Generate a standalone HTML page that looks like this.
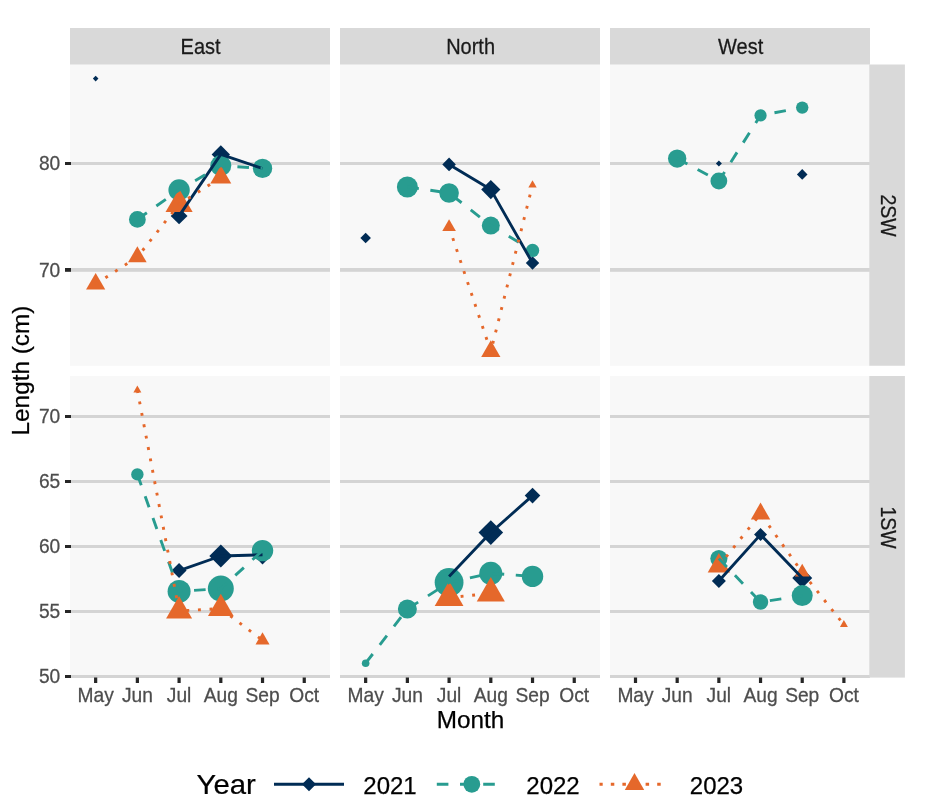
<!DOCTYPE html>
<html lang="en"><head><meta charset="utf-8"><title>Length by Month</title>
<style>html,body{margin:0;padding:0;background:#fff}svg{display:block}</style></head>
<body>
<svg width="940" height="812" viewBox="0 0 940 812" font-family="'Liberation Sans', sans-serif">
<rect width="940" height="812" fill="#fff"/>
<clipPath id="c00"><rect x="70" y="64.5" width="260" height="301.25"/></clipPath>
<rect x="70" y="64" width="260" height="301.75" fill="#F8F8F8"/>
<g clip-path="url(#c00)">
<rect x="70" y="162" width="260" height="3" fill="#D4D4D4"/>
<rect x="70" y="268" width="260" height="3.8" fill="#D4D4D4"/>
<path fill="#012C55" d="M92.85 78.6L95.65 75.8L98.45 78.6L95.65 81.4Z"/>
<path fill="#012C55" d="M170.69 215.9L179.09 207.5L187.49 215.9L179.09 224.3Z"/>
<path fill="#012C55" d="M211.61 154.4L220.81 145.2L230.01 154.4L220.81 163.6Z"/>
<path fill="#012C55" d="M258.53 168.5L262.53 164.5L266.53 168.5L262.53 172.5Z"/>
<circle fill="#289C90" cx="137.37" cy="219.4" r="8.4"/>
<circle fill="#289C90" cx="179.09" cy="190" r="10.7"/>
<circle fill="#289C90" cx="220.81" cy="165.6" r="10.5"/>
<circle fill="#289C90" cx="262.53" cy="168.4" r="9.7"/>
<path fill="#E5682B" d="M95.65 272.95L105.26 289.6L86.04 289.6Z"/>
<path fill="#E5682B" d="M137.37 246.26L146.67 262.37L128.07 262.37Z"/>
<path fill="#E5682B" d="M179.09 188.65L192.64 212.12L165.54 212.12Z"/>
<path fill="#E5682B" d="M220.81 165.45L231.29 183.6L210.33 183.6Z"/>
<polyline fill="none" stroke="#012C55" stroke-width="2.9" stroke-linejoin="round" points="179.09,215.9 220.81,154.4 262.53,168.5"/>
<polyline fill="none" stroke="#289C90" stroke-width="2.9" stroke-dasharray="11.6 11.6" stroke-linejoin="round" points="137.37,219.4 179.09,190 220.81,165.6 262.53,168.4"/>
<polyline fill="none" stroke="#E5682B" stroke-width="2.9" stroke-dasharray="2.9 8.7" stroke-linejoin="round" points="95.65,284.05 137.37,257 179.09,204.3 220.81,177.55"/>
</g>
<clipPath id="c01"><rect x="340" y="64.5" width="260" height="301.25"/></clipPath>
<rect x="340" y="64" width="260" height="301.75" fill="#F8F8F8"/>
<g clip-path="url(#c01)">
<rect x="340" y="162" width="260" height="3" fill="#D4D4D4"/>
<rect x="340" y="268" width="260" height="3.8" fill="#D4D4D4"/>
<path fill="#012C55" d="M360.35 238L365.65 232.7L370.95 238L365.65 243.3Z"/>
<path fill="#012C55" d="M442.29 164.4L449.09 157.6L455.89 164.4L449.09 171.2Z"/>
<path fill="#012C55" d="M481.21 189.6L490.81 180L500.41 189.6L490.81 199.2Z"/>
<path fill="#012C55" d="M525.83 263L532.53 256.3L539.23 263L532.53 269.7Z"/>
<circle fill="#289C90" cx="407.37" cy="187" r="10.5"/>
<circle fill="#289C90" cx="449.09" cy="193" r="9.8"/>
<circle fill="#289C90" cx="490.81" cy="225.6" r="9"/>
<circle fill="#289C90" cx="532.53" cy="250.4" r="6.7"/>
<path fill="#E5682B" d="M449.09 219.25L455.89 231.03L442.29 231.03Z"/>
<path fill="#E5682B" d="M490.81 340.35L500.42 357L481.2 357Z"/>
<path fill="#E5682B" d="M532.53 180.2L536.69 187.4L528.37 187.4Z"/>
<polyline fill="none" stroke="#012C55" stroke-width="2.9" stroke-linejoin="round" points="449.09,164.4 490.81,189.6 532.53,263"/>
<polyline fill="none" stroke="#289C90" stroke-width="2.9" stroke-dasharray="11.6 11.6" stroke-linejoin="round" points="407.37,187 449.09,193 490.81,225.6 532.53,250.4"/>
<polyline fill="none" stroke="#E5682B" stroke-width="2.9" stroke-dasharray="2.9 8.7" stroke-linejoin="round" points="449.09,227.1 490.81,351.45 532.53,185"/>
</g>
<clipPath id="c02"><rect x="610" y="64.5" width="260" height="301.25"/></clipPath>
<rect x="610" y="64" width="260" height="301.75" fill="#F8F8F8"/>
<g clip-path="url(#c02)">
<rect x="610" y="162" width="260" height="3" fill="#D4D4D4"/>
<rect x="610" y="268" width="260" height="3.8" fill="#D4D4D4"/>
<path fill="#012C55" d="M715.86 163.4L718.86 160.4L721.86 163.4L718.86 166.4Z"/>
<path fill="#012C55" d="M796.92 174.4L802.22 169.1L807.52 174.4L802.22 179.7Z"/>
<circle fill="#289C90" cx="677.18" cy="158.6" r="9.2"/>
<circle fill="#289C90" cx="718.86" cy="181" r="8.4"/>
<circle fill="#289C90" cx="760.54" cy="115.4" r="6.1"/>
<circle fill="#289C90" cx="802.22" cy="107.6" r="6.2"/>
<polyline fill="none" stroke="#289C90" stroke-width="2.9" stroke-dasharray="11.6 11.6" stroke-linejoin="round" points="677.18,158.6 718.86,181 760.54,115.4 802.22,107.6"/>
</g>
<clipPath id="c10"><rect x="70" y="376" width="260" height="302"/></clipPath>
<rect x="70" y="376" width="260" height="302" fill="#F8F8F8"/>
<g clip-path="url(#c10)">
<rect x="70" y="415" width="260" height="3" fill="#D4D4D4"/>
<rect x="70" y="480" width="260" height="3" fill="#D4D4D4"/>
<rect x="70" y="545" width="260" height="3" fill="#D4D4D4"/>
<rect x="70" y="610" width="260" height="3" fill="#D4D4D4"/>
<rect x="70" y="675" width="260" height="3" fill="#D4D4D4"/>
<path fill="#012C55" d="M171.59 570.6L179.09 563.1L186.59 570.6L179.09 578.1Z"/>
<path fill="#012C55" d="M209.31 556L220.81 544.5L232.31 556L220.81 567.5Z"/>
<path fill="#012C55" d="M252.93 554.8L262.53 545.2L272.13 554.8L262.53 564.4Z"/>
<circle fill="#289C90" cx="137.37" cy="474.4" r="6.2"/>
<circle fill="#289C90" cx="179.09" cy="591.4" r="11.5"/>
<circle fill="#289C90" cx="220.81" cy="588.6" r="13"/>
<circle fill="#289C90" cx="262.53" cy="550.6" r="10.7"/>
<path fill="#E5682B" d="M137.37 385.5L141.35 392.4L133.39 392.4Z"/>
<path fill="#E5682B" d="M179.09 595.9L192.08 618.4L166.1 618.4Z"/>
<path fill="#E5682B" d="M220.81 593.8L233.63 616L207.99 616Z"/>
<path fill="#E5682B" d="M262.53 632.25L269.54 644.4L255.52 644.4Z"/>
<polyline fill="none" stroke="#012C55" stroke-width="2.9" stroke-linejoin="round" points="179.09,570.6 220.81,556 262.53,554.8"/>
<polyline fill="none" stroke="#289C90" stroke-width="2.9" stroke-dasharray="11.6 11.6" stroke-linejoin="round" points="137.37,474.4 179.09,591.4 220.81,588.6 262.53,550.6"/>
<polyline fill="none" stroke="#E5682B" stroke-width="2.9" stroke-dasharray="2.9 8.7" stroke-linejoin="round" points="137.37,390.1 179.09,610.9 220.81,608.6 262.53,640.35"/>
</g>
<clipPath id="c11"><rect x="340" y="376" width="260" height="302"/></clipPath>
<rect x="340" y="376" width="260" height="302" fill="#F8F8F8"/>
<g clip-path="url(#c11)">
<rect x="340" y="415" width="260" height="3" fill="#D4D4D4"/>
<rect x="340" y="480" width="260" height="3" fill="#D4D4D4"/>
<rect x="340" y="545" width="260" height="3" fill="#D4D4D4"/>
<rect x="340" y="610" width="260" height="3" fill="#D4D4D4"/>
<rect x="340" y="675" width="260" height="3" fill="#D4D4D4"/>
<path fill="#012C55" d="M445.09 576.4L449.09 572.4L453.09 576.4L449.09 580.4Z"/>
<path fill="#012C55" d="M478.51 532.6L490.81 520.3L503.11 532.6L490.81 544.9Z"/>
<path fill="#012C55" d="M524.73 495.6L532.53 487.8L540.33 495.6L532.53 503.4Z"/>
<circle fill="#289C90" cx="365.65" cy="663.2" r="3.8"/>
<circle fill="#289C90" cx="407.37" cy="609" r="9.5"/>
<circle fill="#289C90" cx="449.09" cy="582.4" r="14.4"/>
<circle fill="#289C90" cx="490.81" cy="573.3" r="11.5"/>
<circle fill="#289C90" cx="532.53" cy="576.4" r="10.7"/>
<path fill="#E5682B" d="M449.09 581.1L463.47 606L434.71 606Z"/>
<path fill="#E5682B" d="M490.81 577.1L504.84 601.4L476.78 601.4Z"/>
<polyline fill="none" stroke="#012C55" stroke-width="2.9" stroke-linejoin="round" points="449.09,576.4 490.81,532.6 532.53,495.6"/>
<polyline fill="none" stroke="#289C90" stroke-width="2.9" stroke-dasharray="11.6 11.6" stroke-linejoin="round" points="365.65,663.2 407.37,609 449.09,582.4 490.81,573.3 532.53,576.4"/>
<polyline fill="none" stroke="#E5682B" stroke-width="2.9" stroke-dasharray="2.9 8.7" stroke-linejoin="round" points="449.09,597.7 490.81,593.3"/>
</g>
<clipPath id="c12"><rect x="610" y="376" width="260" height="302"/></clipPath>
<rect x="610" y="376" width="260" height="302" fill="#F8F8F8"/>
<g clip-path="url(#c12)">
<rect x="610" y="415" width="260" height="3" fill="#D4D4D4"/>
<rect x="610" y="480" width="260" height="3" fill="#D4D4D4"/>
<rect x="610" y="545" width="260" height="3" fill="#D4D4D4"/>
<rect x="610" y="610" width="260" height="3" fill="#D4D4D4"/>
<rect x="610" y="675" width="260" height="3" fill="#D4D4D4"/>
<path fill="#012C55" d="M711.86 581L718.86 574L725.86 581L718.86 588Z"/>
<path fill="#012C55" d="M754.04 534.6L760.54 528.1L767.04 534.6L760.54 541.1Z"/>
<path fill="#012C55" d="M792.22 578L802.22 568L812.22 578L802.22 588Z"/>
<circle fill="#289C90" cx="718.86" cy="558.6" r="8.6"/>
<circle fill="#289C90" cx="760.54" cy="602" r="7.7"/>
<circle fill="#289C90" cx="802.22" cy="595.6" r="10.5"/>
<path fill="#E5682B" d="M718.86 553.05L730.03 572.4L707.69 572.4Z"/>
<path fill="#E5682B" d="M760.54 502.6L770.24 519.4L750.84 519.4Z"/>
<path fill="#E5682B" d="M802.22 563.85L809.58 576.6L794.86 576.6Z"/>
<path fill="#E5682B" d="M843.9 620.1L847.88 627L839.92 627Z"/>
<polyline fill="none" stroke="#012C55" stroke-width="2.9" stroke-linejoin="round" points="718.86,581 760.54,534.6 802.22,578"/>
<polyline fill="none" stroke="#289C90" stroke-width="2.9" stroke-dasharray="11.6 11.6" stroke-linejoin="round" points="718.86,558.6 760.54,602 802.22,595.6"/>
<polyline fill="none" stroke="#E5682B" stroke-width="2.9" stroke-dasharray="2.9 8.7" stroke-linejoin="round" points="718.86,565.95 760.54,513.8 802.22,572.35 843.9,624.7"/>
</g>
<rect x="70" y="28" width="260" height="36.5" fill="#D9D9D9"/>
<text transform="translate(200.6 53.8) scale(1 1.09)" font-size="20" text-anchor="middle" fill="#1A1A1A" stroke="#1A1A1A" stroke-width="0.25">East</text>
<rect x="340" y="28" width="260" height="36.5" fill="#D9D9D9"/>
<text transform="translate(470.6 53.8) scale(1 1.09)" font-size="20" text-anchor="middle" fill="#1A1A1A" stroke="#1A1A1A" stroke-width="0.25">North</text>
<rect x="610" y="28" width="260" height="36.5" fill="#D9D9D9"/>
<text transform="translate(740.6 53.8) scale(1 1.09)" font-size="20" text-anchor="middle" fill="#1A1A1A" stroke="#1A1A1A" stroke-width="0.25">West</text>
<rect x="869.3" y="64.5" width="35.6" height="301.25" fill="#D9D9D9"/>
<text transform="translate(880.6 215.62) rotate(90) scale(1 1.11)" font-size="19.5" text-anchor="middle" fill="#1A1A1A" stroke="#1A1A1A" stroke-width="0.25">2SW</text>
<rect x="869.3" y="376" width="35.6" height="301.6" fill="#D9D9D9"/>
<text transform="translate(880.6 527.5) rotate(90) scale(1 1.11)" font-size="19.5" text-anchor="middle" fill="#1A1A1A" stroke="#1A1A1A" stroke-width="0.25">1SW</text>
<rect x="65" y="162" width="6" height="3" fill="#262626"/>
<text transform="translate(60.3 170.4) scale(1 1.06)" font-size="19.2" text-anchor="end" fill="#4D4D4D" stroke="#4D4D4D" stroke-width="0.25">80</text>
<rect x="65" y="268" width="6" height="3.8" fill="#262626"/>
<text transform="translate(60.3 276.8) scale(1 1.06)" font-size="19.2" text-anchor="end" fill="#4D4D4D" stroke="#4D4D4D" stroke-width="0.25">70</text>
<rect x="65" y="415" width="6" height="3" fill="#262626"/>
<text transform="translate(60.3 423.4) scale(1 1.06)" font-size="19.2" text-anchor="end" fill="#4D4D4D" stroke="#4D4D4D" stroke-width="0.25">70</text>
<rect x="65" y="480" width="6" height="3" fill="#262626"/>
<text transform="translate(60.3 488.4) scale(1 1.06)" font-size="19.2" text-anchor="end" fill="#4D4D4D" stroke="#4D4D4D" stroke-width="0.25">65</text>
<rect x="65" y="545" width="6" height="3" fill="#262626"/>
<text transform="translate(60.3 553.4) scale(1 1.06)" font-size="19.2" text-anchor="end" fill="#4D4D4D" stroke="#4D4D4D" stroke-width="0.25">60</text>
<rect x="65" y="610" width="6" height="3" fill="#262626"/>
<text transform="translate(60.3 618.4) scale(1 1.06)" font-size="19.2" text-anchor="end" fill="#4D4D4D" stroke="#4D4D4D" stroke-width="0.25">55</text>
<rect x="65" y="675" width="6" height="3" fill="#262626"/>
<text transform="translate(60.3 683.4) scale(1 1.06)" font-size="19.2" text-anchor="end" fill="#4D4D4D" stroke="#4D4D4D" stroke-width="0.25">50</text>
<rect x="94.05" y="677.5" width="3.2" height="5.5" fill="#262626"/>
<text transform="translate(95.65 702.2) scale(1 1.06)" font-size="19.2" text-anchor="middle" fill="#4D4D4D" stroke="#4D4D4D" stroke-width="0.25">May</text>
<rect x="135.77" y="677.5" width="3.2" height="5.5" fill="#262626"/>
<text transform="translate(137.37 702.2) scale(1 1.06)" font-size="19.2" text-anchor="middle" fill="#4D4D4D" stroke="#4D4D4D" stroke-width="0.25">Jun</text>
<rect x="177.49" y="677.5" width="3.2" height="5.5" fill="#262626"/>
<text transform="translate(179.09 702.2) scale(1 1.06)" font-size="19.2" text-anchor="middle" fill="#4D4D4D" stroke="#4D4D4D" stroke-width="0.25">Jul</text>
<rect x="219.21" y="677.5" width="3.2" height="5.5" fill="#262626"/>
<text transform="translate(220.81 702.2) scale(1 1.06)" font-size="19.2" text-anchor="middle" fill="#4D4D4D" stroke="#4D4D4D" stroke-width="0.25">Aug</text>
<rect x="260.93" y="677.5" width="3.2" height="5.5" fill="#262626"/>
<text transform="translate(262.53 702.2) scale(1 1.06)" font-size="19.2" text-anchor="middle" fill="#4D4D4D" stroke="#4D4D4D" stroke-width="0.25">Sep</text>
<rect x="302.65" y="677.5" width="3.2" height="5.5" fill="#262626"/>
<text transform="translate(304.25 702.2) scale(1 1.06)" font-size="19.2" text-anchor="middle" fill="#4D4D4D" stroke="#4D4D4D" stroke-width="0.25">Oct</text>
<rect x="364.05" y="677.5" width="3.2" height="5.5" fill="#262626"/>
<text transform="translate(365.65 702.2) scale(1 1.06)" font-size="19.2" text-anchor="middle" fill="#4D4D4D" stroke="#4D4D4D" stroke-width="0.25">May</text>
<rect x="405.77" y="677.5" width="3.2" height="5.5" fill="#262626"/>
<text transform="translate(407.37 702.2) scale(1 1.06)" font-size="19.2" text-anchor="middle" fill="#4D4D4D" stroke="#4D4D4D" stroke-width="0.25">Jun</text>
<rect x="447.49" y="677.5" width="3.2" height="5.5" fill="#262626"/>
<text transform="translate(449.09 702.2) scale(1 1.06)" font-size="19.2" text-anchor="middle" fill="#4D4D4D" stroke="#4D4D4D" stroke-width="0.25">Jul</text>
<rect x="489.21" y="677.5" width="3.2" height="5.5" fill="#262626"/>
<text transform="translate(490.81 702.2) scale(1 1.06)" font-size="19.2" text-anchor="middle" fill="#4D4D4D" stroke="#4D4D4D" stroke-width="0.25">Aug</text>
<rect x="530.93" y="677.5" width="3.2" height="5.5" fill="#262626"/>
<text transform="translate(532.53 702.2) scale(1 1.06)" font-size="19.2" text-anchor="middle" fill="#4D4D4D" stroke="#4D4D4D" stroke-width="0.25">Sep</text>
<rect x="572.65" y="677.5" width="3.2" height="5.5" fill="#262626"/>
<text transform="translate(574.25 702.2) scale(1 1.06)" font-size="19.2" text-anchor="middle" fill="#4D4D4D" stroke="#4D4D4D" stroke-width="0.25">Oct</text>
<rect x="633.9" y="677.5" width="3.2" height="5.5" fill="#262626"/>
<text transform="translate(635.5 702.2) scale(1 1.06)" font-size="19.2" text-anchor="middle" fill="#4D4D4D" stroke="#4D4D4D" stroke-width="0.25">May</text>
<rect x="675.58" y="677.5" width="3.2" height="5.5" fill="#262626"/>
<text transform="translate(677.18 702.2) scale(1 1.06)" font-size="19.2" text-anchor="middle" fill="#4D4D4D" stroke="#4D4D4D" stroke-width="0.25">Jun</text>
<rect x="717.26" y="677.5" width="3.2" height="5.5" fill="#262626"/>
<text transform="translate(718.86 702.2) scale(1 1.06)" font-size="19.2" text-anchor="middle" fill="#4D4D4D" stroke="#4D4D4D" stroke-width="0.25">Jul</text>
<rect x="758.94" y="677.5" width="3.2" height="5.5" fill="#262626"/>
<text transform="translate(760.54 702.2) scale(1 1.06)" font-size="19.2" text-anchor="middle" fill="#4D4D4D" stroke="#4D4D4D" stroke-width="0.25">Aug</text>
<rect x="800.62" y="677.5" width="3.2" height="5.5" fill="#262626"/>
<text transform="translate(802.22 702.2) scale(1 1.06)" font-size="19.2" text-anchor="middle" fill="#4D4D4D" stroke="#4D4D4D" stroke-width="0.25">Sep</text>
<rect x="842.3" y="677.5" width="3.2" height="5.5" fill="#262626"/>
<text transform="translate(843.9 702.2) scale(1 1.06)" font-size="19.2" text-anchor="middle" fill="#4D4D4D" stroke="#4D4D4D" stroke-width="0.25">Oct</text>
<text transform="translate(470.5 728.4) scale(1 1.0)" font-size="24.3" text-anchor="middle" fill="#000" stroke="#000" stroke-width="0.25">Month</text>
<text transform="translate(29.2 370.6) rotate(-90) scale(1 1.0)" font-size="24.3" text-anchor="middle" fill="#000" stroke="#000" stroke-width="0.25">Length (cm)</text>
<text transform="translate(196.6 794.3) scale(1 0.95)" font-size="29.33" text-anchor="start" fill="#000" stroke="#000" stroke-width="0.25">Year</text>
<line x1="274" y1="784.3" x2="344" y2="784.3" stroke="#012C55" stroke-width="2.9"/>
<path fill="#012C55" d="M302 784.3L309 777.3L316 784.3L309 791.3Z"/>
<text transform="translate(363.3 793.9) scale(1 1.0)" font-size="24" text-anchor="start" fill="#000" stroke="#000" stroke-width="0.25">2021</text>
<line x1="436.8" y1="784.3" x2="504.8" y2="784.3" stroke="#289C90" stroke-width="2.9" stroke-dasharray="11.6 11.6"/>
<circle fill="#289C90" cx="471.8" cy="784.3" r="8.4"/>
<text transform="translate(526.3 793.9) scale(1 1.0)" font-size="24" text-anchor="start" fill="#000" stroke="#000" stroke-width="0.25">2022</text>
<line x1="599.5" y1="784.3" x2="667.5" y2="784.3" stroke="#E5682B" stroke-width="2.9" stroke-dasharray="3.5 8.1" stroke-dashoffset="0.3"/>
<path fill="#E5682B" d="M634.5 773.1L644.2 789.9L624.8 789.9Z"/>
<text transform="translate(689.8 793.9) scale(1 1.0)" font-size="24" text-anchor="start" fill="#000" stroke="#000" stroke-width="0.25">2023</text>
</svg>
</body></html>
